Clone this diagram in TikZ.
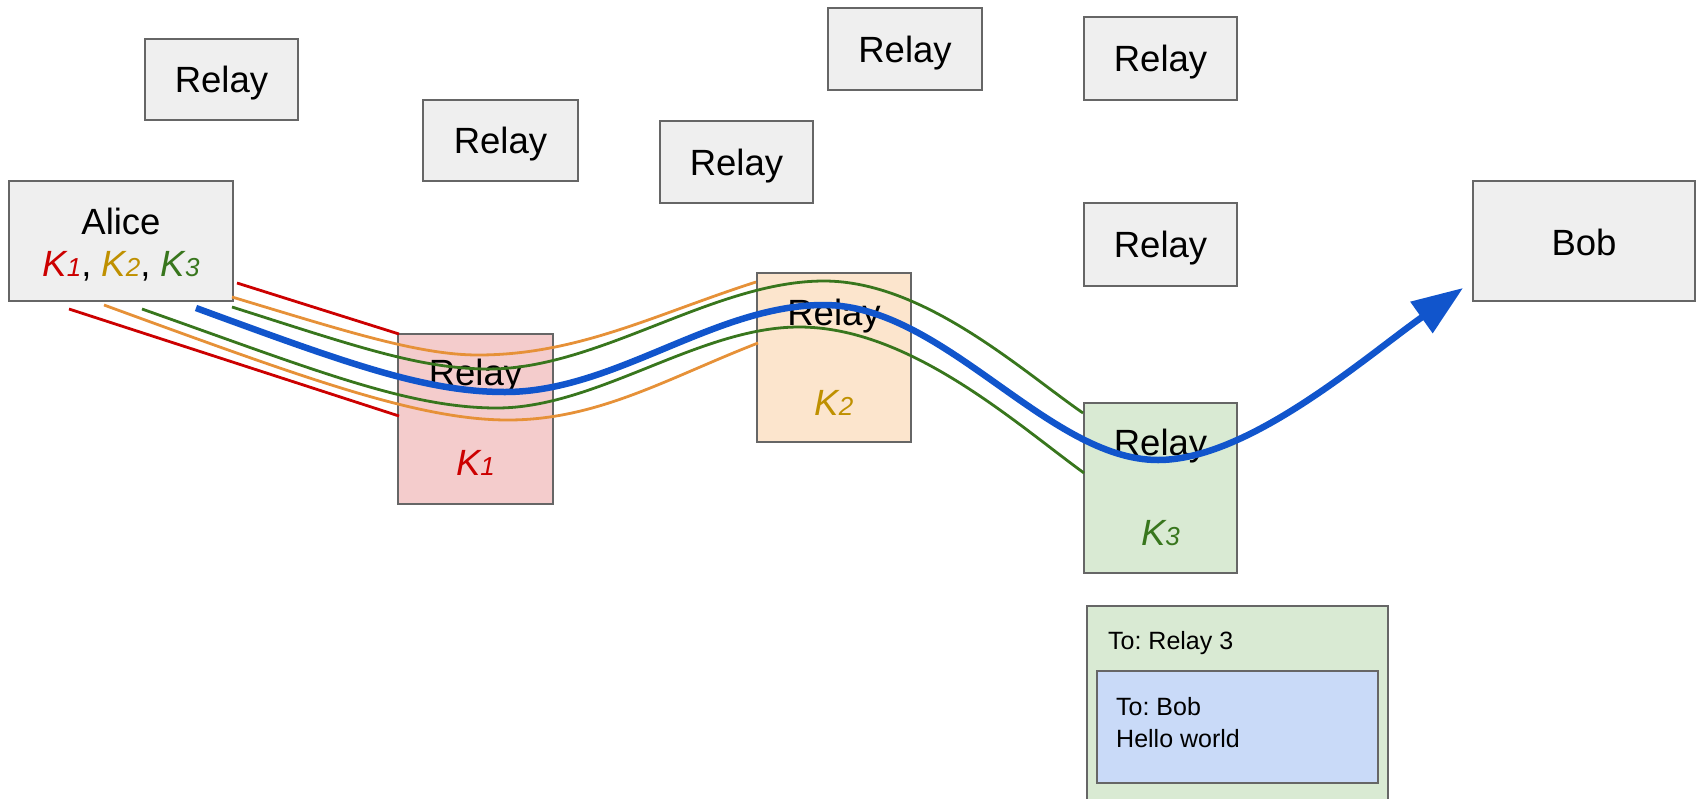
\documentclass[tikz,border=0pt]{standalone}
\usepackage{fontspec}
\setmainfont{Liberation Sans}
\usetikzlibrary{arrows.meta}
\definecolor{boxgray}{HTML}{EFEFEF}
\definecolor{edgegray}{HTML}{666666}
\definecolor{kred}{HTML}{CC0000}
\definecolor{kyellow}{HTML}{BF9000}
\definecolor{kgreen}{HTML}{38761D}
\definecolor{lorange}{HTML}{E69138}
\definecolor{lblue}{HTML}{1155CC}
\definecolor{fpink}{HTML}{F4CCCC}
\definecolor{forange}{HTML}{FCE5CD}
\definecolor{fgreen}{HTML}{D9EAD3}
\definecolor{fblue}{HTML}{C9DAF8}
\newcommand{\Ksub}[1]{\textit{K{\fontsize{26}{30}\selectfont #1}}}
\frenchspacing
\begin{document}
\begin{tikzpicture}[x=1pt,y=-1pt,
  boxnode/.style={draw=edgegray, line width=1.5pt, inner sep=0pt, outer sep=0pt},
  bigtext/.style={font=\fontsize{36.5}{44}\selectfont, inner sep=0pt, text height=26pt, text depth=0pt},
  smalltext/.style={font=\fontsize{25}{32}\selectfont, inner sep=0pt, anchor=base west},
  thinline/.style={line width=2.8pt},
  route/.style={line width=6.5pt, color=lblue, -{Triangle[length=51pt,width=37pt]}}
]
\useasboundingbox (0,0) rectangle (1696,798);

% gray relays
\node[boxnode, fill=boxgray, minimum width=153pt, minimum height=81pt] (ra) at (221.5,79.5) {};
\node[bigtext] (rat) at (ra.center) {Relay};
\node[boxnode, fill=boxgray, minimum width=155pt, minimum height=81pt] (rb) at (500.5,140.5) {};
\node[bigtext] (rbt) at (rb.center) {Relay};
\node[boxnode, fill=boxgray, minimum width=153pt, minimum height=82pt] (rc) at (736.5,162) {};
\node[bigtext] (rct) at (rc.center) {Relay};
\node[boxnode, fill=boxgray, minimum width=154pt, minimum height=82pt] (rd) at (905,49) {};
\node[bigtext] (rdt) at (rd.center) {Relay};
\node[boxnode, fill=boxgray, minimum width=153pt, minimum height=83pt] (re) at (1160.5,58.5) {};
\node[bigtext] (ret) at (re.center) {Relay};
\node[boxnode, fill=boxgray, minimum width=153pt, minimum height=83pt] (rf) at (1160.5,244.5) {};
\node[bigtext] (rft) at (rf.center) {Relay};

% Alice and Bob
\node[boxnode, fill=boxgray, minimum width=224pt, minimum height=120pt] (alice) at (121,241) {};
\node[bigtext, anchor=base] (alicet) at (121,234) {Alice};
\node[bigtext, anchor=base] (alicek) at (121,276) {\textcolor{kred}{\Ksub{1}}, \textcolor{kyellow}{\Ksub{2}}, \textcolor{kgreen}{\Ksub{3}}};
\node[boxnode, fill=boxgray, minimum width=222pt, minimum height=120pt] (bob) at (1584,241) {};
\node[bigtext, anchor=base] (bobt) at (1584,255) {Bob};

% colored relays
\node[boxnode, fill=fpink, minimum width=155pt, minimum height=170pt] (r1) at (475.5,419) {};
\node[bigtext, anchor=base] (r1t) at (475.5,385) {Relay};
\node[bigtext, anchor=base, text=kred] (r1k) at (475.5,475) {\Ksub{1}};
\node[boxnode, fill=forange, minimum width=154pt, minimum height=169pt] (r2) at (834,357.5) {};
\node[bigtext, anchor=base] (r2t) at (834,325) {Relay};
\node[bigtext, anchor=base, text=kyellow] (r2k) at (834,415) {\Ksub{2}};
\node[boxnode, fill=fgreen, minimum width=153pt, minimum height=170pt] (r3) at (1160.5,488) {};
\node[bigtext, anchor=base] (r3t) at (1160.5,455) {Relay};
\node[bigtext, anchor=base, text=kgreen] (r3k) at (1160.5,545) {\Ksub{3}};

% message
\node[boxnode, fill=fgreen, minimum width=301pt, minimum height=214pt] (msg) at (1237.5,713) {};
\node[smalltext] (msgt) at (1108,649) {To: Relay 3};
\node[boxnode, fill=fblue, minimum width=281pt, minimum height=112pt] (inner) at (1237.5,727) {};
\node[smalltext] (innert1) at (1116,715) {To: Bob};
\node[smalltext] (innert2) at (1116,747) {Hello world};

% red lines
\coordinate (redUa) at (237,283); \coordinate (redUb) at (399,334);
\coordinate (redLa) at (69,309);  \coordinate (redLb) at (399,416);
\draw[thinline, kred] (redUa) -- (redUb);
\draw[thinline, kred] (redLa) -- (redLb);

% orange lines
\coordinate (orUa) at (232,297); \coordinate (orUm) at (478,355); \coordinate (orUb) at (756,282);
\coordinate (orLa) at (104,305); \coordinate (orLm) at (508,420); \coordinate (orLb) at (758,343);
\draw[thinline, lorange] (orUa) .. controls (342,330) and (418,355) .. (orUm)
  .. controls (578,355) and (656,314) .. (orUb);
\draw[thinline, lorange] (orLa) .. controls (304,378) and (418,420) .. (orLm)
  .. controls (598,420) and (668,378) .. (orLb);

% green lines
\coordinate (grUa) at (232,307); \coordinate (grUm) at (489,369); \coordinate (grUp) at (824,281); \coordinate (grUb) at (1083,413);
\coordinate (grLa) at (142,309); \coordinate (grLm) at (497,408); \coordinate (grLp) at (799,327); \coordinate (grLb) at (1084,473);
\draw[thinline, kgreen] (grUa) .. controls (352,345) and (419,369) .. (grUm)
  .. controls (599,369) and (714,281) .. (grUp)
  .. controls (924,281) and (1022,371) .. (grUb);
\draw[thinline, kgreen] (grLa) .. controls (312,369) and (407,408) .. (grLm)
  .. controls (597,408) and (699,327) .. (grLp)
  .. controls (909,327) and (1014,422) .. (grLb);

% blue route
\coordinate (blA) at (196,308); \coordinate (blM1) at (505,392); \coordinate (blP) at (824,305); \coordinate (blM2) at (1158,460); \coordinate (blTip) at (1463,288);
\draw[route] (blA) .. controls (346,363) and (425,392) .. (blM1)
  .. controls (615,392) and (714,305) .. (blP)
  .. controls (944,305) and (1048,460) .. (blM2)
  .. controls (1248,460) and (1363,359) .. (blTip);
\end{tikzpicture}
\end{document}
